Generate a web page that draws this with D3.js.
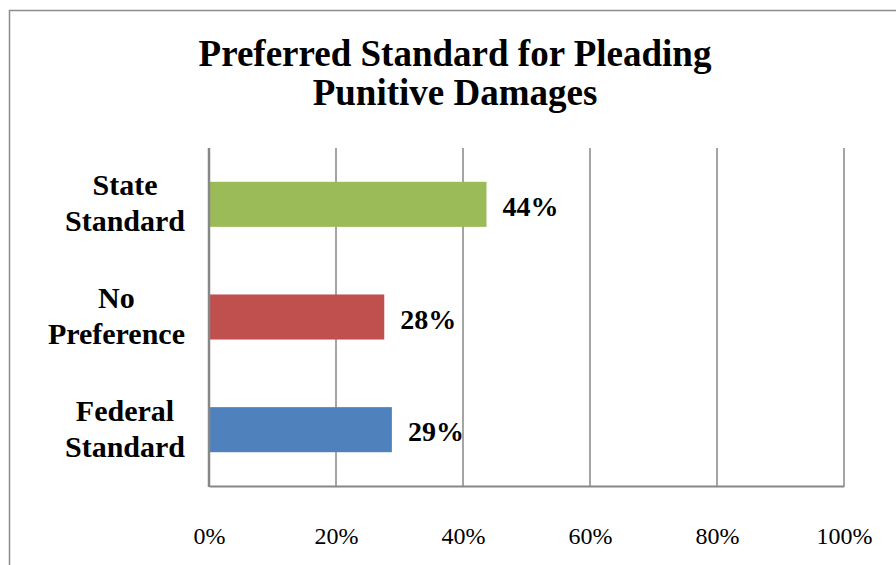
<!DOCTYPE html>
<html>
<head>
<meta charset="utf-8">
<script src="https://cdn.jsdelivr.net/npm/d3@7"></script>
<style>
  html, body { margin: 0; padding: 0; background: #ffffff; }
  svg { display: block; font-family: "Liberation Serif", "Times New Roman", serif; }
</style>
</head>
<body>
<svg id="chart" width="896" height="565"></svg>
<script>
// ---- data ----
const titleLines = ["Preferred Standard for Pleading", "Punitive Damages"];
const categories = ["State Standard", "No Preference", "Federal Standard"];
const categoryLines = [["State", "Standard"], ["No", "Preference"], ["Federal", "Standard"]];
const values = [0.437, 0.276, 0.288];
const colors = ["#9BBB59", "#C0504D", "#4F81BD"];
const tickValues = [0, 0.2, 0.4, 0.6, 0.8, 1.0];

// ---- layout ----
const W = 896, H = 565;
const plot = { left: 209, right: 844, top: 148, bottom: 486 };
const gridColor = "#878787";

const svg = d3.select("#chart");

// outer chart border (right/bottom edges fall outside the view)
svg.append("rect")
  .attr("x", 9.5).attr("y", 10.5)
  .attr("width", 900).attr("height", 570)
  .attr("fill", "#ffffff")
  .attr("stroke", "#8c8c8c")
  .attr("stroke-width", 1.5);

// title
const title = svg.append("text")
  .attr("text-anchor", "middle")
  .attr("font-weight", "bold")
  .attr("font-size", 37)
  .attr("fill", "#000");
titleLines.forEach((t, i) => {
  title.append("tspan").attr("x", 455).attr("y", 66 + i * 39).text(t);
});

// scales
const x = d3.scaleLinear().domain([0, 1]).range([plot.left, plot.right]);
const y = d3.scaleBand().domain(categories).range([plot.top, plot.bottom])
  .paddingInner(0.6).paddingOuter(0.3);

// gridlines
svg.append("g")
  .selectAll("line")
  .data(tickValues.filter(d => d > 0))
  .join("line")
  .attr("x1", d => x(d)).attr("x2", d => x(d))
  .attr("y1", plot.top).attr("y2", plot.bottom)
  .attr("stroke", gridColor).attr("stroke-width", 1.5);

// x axis (tick labels only)
const xAxis = d3.axisBottom(x).tickValues(tickValues)
  .tickFormat(d3.format(".0%")).tickSize(0).tickPadding(0);
const gx = svg.append("g").attr("transform", `translate(0,${plot.bottom})`).call(xAxis);
gx.select(".domain").attr("stroke", gridColor).attr("stroke-width", 2);
gx.selectAll("text")
  .attr("font-family", "Liberation Serif")
  .attr("font-size", 24)
  .attr("fill", "#000")
  .attr("dy", null)
  .attr("y", 58);

// bars
svg.append("g")
  .selectAll("rect")
  .data(categories)
  .join("rect")
  .attr("x", x(0))
  .attr("y", d => y(d))
  .attr("width", (d, i) => x(values[i]) - x(0))
  .attr("height", y.bandwidth())
  .attr("fill", (d, i) => colors[i]);

// y axis line
svg.append("line")
  .attr("x1", x(0)).attr("x2", x(0))
  .attr("y1", plot.top).attr("y2", plot.bottom + 1)
  .attr("stroke", gridColor).attr("stroke-width", 2.5);

// data labels
svg.append("g")
  .selectAll("text")
  .data(categories)
  .join("text")
  .attr("x", (d, i) => x(values[i]) + 16)
  .attr("y", d => y(d) + y.bandwidth() / 2 + 11.5)
  .attr("font-weight", "bold")
  .attr("font-size", 28)
  .attr("fill", "#000")
  .text((d, i) => d3.format(".0%")(values[i]));

// category labels: block right-aligned to 185, lines centered inside the block
const catG = svg.append("g");
categories.forEach((c, i) => {
  const lines = categoryLines[i];
  const cy = y(c) + y.bandwidth() / 2;
  const texts = lines.map((l, j) => catG.append("text")
    .attr("font-weight", "bold")
    .attr("font-size", 30)
    .attr("fill", "#000")
    .attr("text-anchor", "middle")
    .attr("y", cy - 9 + j * 36)
    .text(l));
  const maxW = d3.max(texts, t => t.node().getComputedTextLength());
  texts.forEach(t => t.attr("x", 185 - maxW / 2));
});
</script>
</body>
</html>
